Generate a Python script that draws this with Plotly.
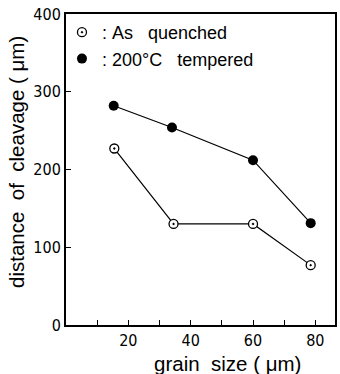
import plotly.graph_objects as go

grain_size_quenched = [15.5, 34.5, 60, 78.5]
cleavage_quenched = [227, 130, 130, 77]
grain_size_tempered = [15.3, 34, 60, 78.5]
cleavage_tempered = [282, 254, 212, 131]

x_tick_vals = [10, 20, 30, 40, 50, 60, 70, 80]
x_tick_text = ["", "20", "", "40", "", "60", "", "80"]
y_tick_vals = [0, 100, 200, 300, 400]
y_tick_text = ["0", "100", "200", "300", "400"]

name_q = ":\u00a0As\u00a0\u00a0\u00a0quenched"
name_t = ":\u00a0200°C\u00a0\u00a0\u00a0tempered"
x_title = "grain\u00a0\u00a0size\u00a0(\u00a0μm)"
y_title = "distance\u00a0\u00a0of\u00a0\u00a0cleavage\u00a0(\u00a0μm)"

font_family = "Liberation Sans, Arial, sans-serif"
narrow_family = "Liberation Sans Narrow, DejaVu Sans Condensed, Liberation Sans, sans-serif"

marker_q = dict(symbol="circle-dot", size=9, color="white",
                line=dict(color="black", width=1.3))
marker_t = dict(symbol="circle", size=10, color="black")

fig = go.Figure()
fig.add_trace(go.Scatter(
    x=grain_size_quenched, y=cleavage_quenched, mode="lines+markers",
    showlegend=False, line=dict(color="black", width=1.2), marker=marker_q,
))
fig.add_trace(go.Scatter(
    x=grain_size_tempered, y=cleavage_tempered, mode="lines+markers",
    showlegend=False, line=dict(color="black", width=1.2), marker=marker_t,
))
# legend entries (markers only)
fig.add_trace(go.Scatter(x=[None], y=[None], mode="markers", name=name_q,
                         marker=marker_q, legendgroup="q"))
fig.add_trace(go.Scatter(x=[None], y=[None], mode="markers", name=name_t,
                         marker=marker_t, legendgroup="t"))

fig.update_layout(
    width=340, height=374,
    margin=dict(l=66, r=3, t=14, b=49),
    paper_bgcolor="white", plot_bgcolor="white",
    font=dict(family=font_family, color="black", size=14),
    showlegend=True,
    legend=dict(x=-0.015, y=1.0, xanchor="left", yanchor="top",
                bgcolor="rgba(0,0,0,0)", borderwidth=0,
                font=dict(size=18), itemwidth=30, tracegroupgap=0,
                traceorder="grouped"),
    xaxis=dict(range=[0, 86.3], tickvals=x_tick_vals, ticktext=x_tick_text,
               ticks="inside", ticklen=5, tickwidth=1, tickcolor="black",
               showline=True, linecolor="black", linewidth=2, mirror=True,
               showgrid=False, zeroline=False,
               tickfont=dict(size=16, family=narrow_family)),
    yaxis=dict(range=[0, 400], tickvals=y_tick_vals, ticktext=y_tick_text,
               ticks="inside", ticklen=5, tickwidth=1, tickcolor="black",
               showline=True, linecolor="black", linewidth=2, mirror=True,
               showgrid=False, zeroline=False,
               tickfont=dict(size=16, family=narrow_family)),
    annotations=[
        dict(text=x_title, xref="paper", yref="paper", x=0.6, y=-0.125,
             xanchor="center", yanchor="middle", showarrow=False,
             font=dict(size=20.5)),
        dict(text=y_title, xref="paper", yref="paper", x=-0.185, y=0.525,
             xanchor="center", yanchor="middle", showarrow=False,
             textangle=-90, font=dict(size=20.5)),
    ],
)

fig.write_html("out.html")
